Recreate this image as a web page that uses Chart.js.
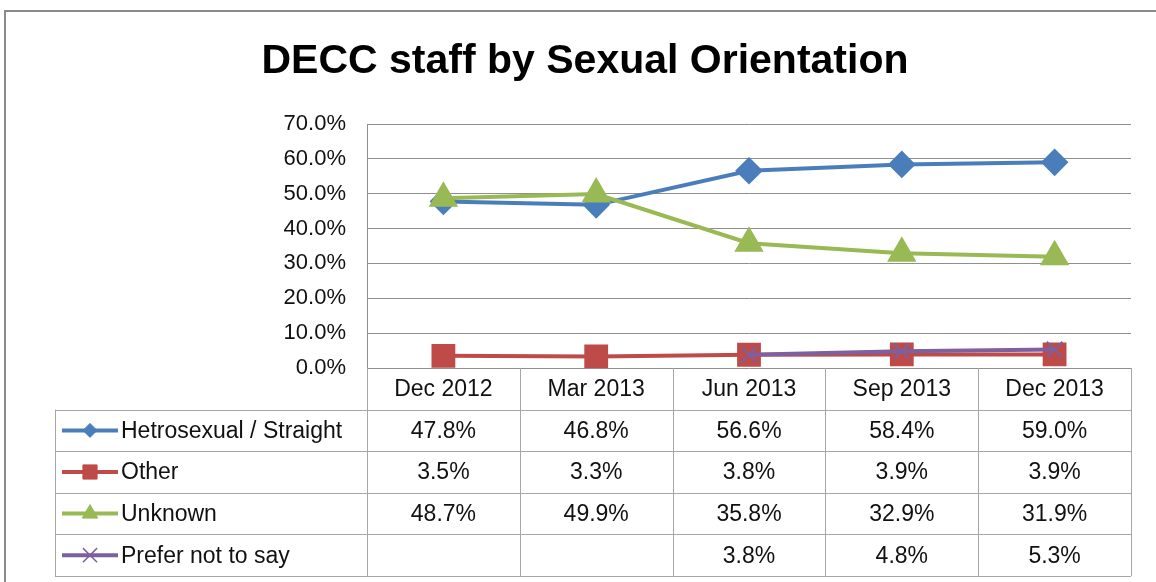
<!DOCTYPE html>
<html>
<head>
<meta charset="utf-8">
<script src="https://cdn.jsdelivr.net/npm/chart.js@4/dist/chart.umd.min.js"></script>
<style>
  body { margin: 0; background: #fff; }
  #wrap { width: 1156px; height: 582px; }
</style>
</head>
<body>
<div id="wrap"><canvas id="myChart" width="1156" height="582"></canvas></div>
<script>
var labels = ["Dec 2012", "Mar 2013", "Jun 2013", "Sep 2013", "Dec 2013"];
var hetro = [47.8, 46.8, 56.6, 58.4, 59.0];
var other = [3.5, 3.3, 3.8, 3.9, 3.9];
var unknown = [48.7, 49.9, 35.8, 32.9, 31.9];
var prefer = [null, null, 3.8, 4.8, 5.3];
var yTicks = [0, 10, 20, 30, 40, 50, 60, 70];

var FONT = "'Liberation Sans', Arial, sans-serif";
var gridColor = "#8f8f8f";
var tableLine = "#a6a6a6";

function pct(v) { return v == null ? "" : v.toFixed(1) + "%"; }

// title, frame and the data table under the plot
var tablePlugin = {
  id: 'dataTable',
  beforeDraw: function (chart) {
    var ctx = chart.ctx;
    ctx.save();
    ctx.strokeStyle = "#8a8a8a";
    ctx.lineWidth = 2;
    ctx.beginPath();
    ctx.moveTo(5, 582);
    ctx.lineTo(5, 11);
    ctx.lineTo(1156, 11);
    ctx.stroke();
    ctx.fillStyle = "#000";
    ctx.font = "bold 41px " + FONT;
    ctx.textAlign = "center";
    ctx.textBaseline = "middle";
    ctx.fillText("DECC staff by Sexual Orientation", 585, 62);
    ctx.restore();
  },
  afterDraw: function (chart) {
    var ctx = chart.ctx;
    var xs = chart.scales.x;
    var area = chart.chartArea;
    var colW = (area.right - area.left) / labels.length;
    var rowH = 41.6;
    var top = area.bottom;
    var tableLeft = 55;
    var ds = chart.data.datasets;
    var nRows = ds.length;
    var bottom = top + rowH * (nRows + 1);

    ctx.save();
    ctx.strokeStyle = tableLine;
    ctx.lineWidth = 1;
    ctx.beginPath();
    for (var i = 0; i <= labels.length; i++) {
      var vx = Math.round(area.left + colW * i) + 0.5;
      ctx.moveTo(vx, top);
      ctx.lineTo(vx, bottom);
    }
    ctx.moveTo(tableLeft + 0.5, top + rowH);
    ctx.lineTo(tableLeft + 0.5, bottom);
    for (var r = 1; r <= nRows + 1; r++) {
      var hy = Math.round(top + rowH * r) + 0.5;
      ctx.moveTo(tableLeft, hy);
      ctx.lineTo(area.right, hy);
    }
    ctx.stroke();

    ctx.fillStyle = "#111";
    ctx.font = "23px " + FONT;
    ctx.textBaseline = "middle";
    ctx.textAlign = "center";
    labels.forEach(function (lab, i) {
      ctx.fillText(lab, xs.getPixelForValue(i), top + rowH / 2 + 1);
    });

    ds.forEach(function (d, r) {
      var cy = top + rowH * (r + 1) + rowH / 2;
      // legend key: line plus marker
      ctx.strokeStyle = d.borderColor;
      ctx.fillStyle = d.borderColor;
      ctx.lineWidth = 4;
      ctx.beginPath();
      ctx.moveTo(62, cy);
      ctx.lineTo(118, cy);
      ctx.stroke();
      ctx.lineWidth = d.pointStyle === 'crossRot' ? 1.5 : 1;
      Chart.helpers.drawPoint(ctx, {
        pointStyle: d.pointStyle,
        radius: d.keyRadius,
        borderWidth: ctx.lineWidth,
        rotation: 0
      }, 90, cy);

      ctx.fillStyle = "#111";
      ctx.textAlign = "left";
      ctx.fillText(d.label, 121, cy + 1);
      ctx.textAlign = "center";
      d.data.forEach(function (v, i) {
        ctx.fillText(pct(v), xs.getPixelForValue(i), cy + 1);
      });
    });
    ctx.restore();
  }
};

new Chart(document.getElementById("myChart"), {
  type: 'line',
  data: {
    labels: labels,
    datasets: [{
      label: 'Hetrosexual / Straight',
      data: hetro,
      borderColor: "#4a7ebb",
      backgroundColor: "#4a7ebb",
      borderWidth: 4,
      pointStyle: 'rectRot',
      pointRadius: 11,
      keyRadius: 7,
      order: 3
    }, {
      label: 'Other',
      data: other,
      borderColor: "#be4b48",
      backgroundColor: "#be4b48",
      borderWidth: 4,
      pointStyle: 'rect',
      pointRadius: 14,
      keyRadius: 10,
      order: 2
    }, {
      label: 'Unknown',
      data: unknown,
      borderColor: "#98b954",
      backgroundColor: "#98b954",
      borderWidth: 4,
      pointStyle: 'triangle',
      pointRadius: 13,
      keyRadius: 9,
      order: 1
    }, {
      label: 'Prefer not to say',
      data: prefer,
      borderColor: "#7d60a0",
      backgroundColor: "#7d60a0",
      borderWidth: 4,
      pointStyle: 'crossRot',
      pointRadius: 11,
      pointBorderWidth: 2,
      keyRadius: 10,
      order: 0
    }]
  },
  options: {
    responsive: false,
    animation: false,
    events: [],
    layout: { padding: { left: 0, top: 124, right: 25, bottom: 214 } },
    elements: { line: { tension: 0 }, point: { borderWidth: 1 } },
    plugins: {
      legend: { display: false },
      title: { display: false },
      tooltip: { enabled: false }
    },
    scales: {
      x: { display: false, offset: true },
      y: {
        min: 0,
        max: 70,
        afterFit: function (scale) { scale.width = 367; },
        afterBuildTicks: function (scale) {
          scale.ticks = yTicks.map(function (v) { return { value: v }; });
        },
        ticks: {
          padding: 21,
          color: "#111",
          font: { family: FONT, size: 22 },
          callback: function (v) { return v.toFixed(1) + "%"; }
        },
        grid: { color: gridColor, lineWidth: 1, drawTicks: false },
        border: { display: true, color: gridColor, width: 1 }
      }
    }
  },
  plugins: [tablePlugin]
});
</script>
</body>
</html>
